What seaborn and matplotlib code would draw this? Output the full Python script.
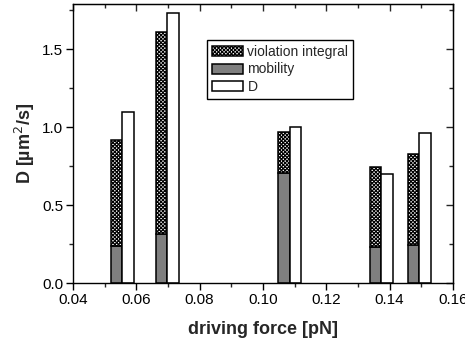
import matplotlib
matplotlib.use("Agg")
import matplotlib.pyplot as plt
import seaborn as sns
import numpy as np
from matplotlib.ticker import MultipleLocator, FormatStrFormatter

# data (force values at the shared edge of each bar pair)
force = [0.0556, 0.0698, 0.1085, 0.1374, 0.1494]
mobility = [0.235, 0.314, 0.705, 0.232, 0.243]
total_stacked = [0.919, 1.609, 0.972, 0.744, 0.831]
D = [1.10, 1.735, 1.004, 0.70, 0.962]
violation = [t - m for t, m in zip(total_stacked, mobility)]

sns.set_style("ticks")
plt.rcParams['font.family'] = ['Liberation Sans', 'DejaVu Sans']
plt.rcParams['hatch.linewidth'] = 0.85

fig = plt.figure(figsize=(4.65, 3.44), dpi=100)
ax = fig.add_axes([0.157, 0.177, 0.817, 0.811])

w = 0.0036
x = np.array(force)
ax.bar(x - w / 2, mobility, width=w, color='#7f7f7f', edgecolor='black', linewidth=1.1, label='mobility', zorder=2)
ax.bar(x - w / 2, violation, bottom=mobility, width=w, color='white', edgecolor='black',
       hatch='xxxxxxxxx', linewidth=1.1, label='violation integral', zorder=2)
ax.bar(x + w / 2, D, width=w, color='white', edgecolor='black', linewidth=1.1, label='D', zorder=2)

ax.set_xlim(0.04, 0.16)
ax.set_ylim(0, 1.79)
ax.xaxis.set_major_locator(MultipleLocator(0.02))
ax.xaxis.set_minor_locator(MultipleLocator(0.01))
ax.yaxis.set_major_locator(MultipleLocator(0.5))
ax.yaxis.set_minor_locator(MultipleLocator(0.25))
ax.xaxis.set_major_formatter(FormatStrFormatter('%.2f'))
ax.yaxis.set_major_formatter(FormatStrFormatter('%.1f'))
ax.tick_params(which='major', direction='out', length=5, width=1, labelsize=11, colors='black', pad=2)
ax.tick_params(which='minor', direction='out', length=3, width=1)
for s in ax.spines.values():
    s.set_visible(True)
    s.set_linewidth(1)
    s.set_color('black')

# top/right inward ticks
secx = ax.secondary_xaxis('top')
secx.xaxis.set_major_locator(MultipleLocator(0.02))
secx.xaxis.set_minor_locator(MultipleLocator(0.01))
secx.tick_params(which='major', direction='in', length=5, width=1, labeltop=False)
secx.tick_params(which='minor', direction='in', length=3, width=1)
secy = ax.secondary_yaxis('right')
secy.yaxis.set_major_locator(MultipleLocator(0.5))
secy.yaxis.set_minor_locator(MultipleLocator(0.25))
secy.tick_params(which='major', direction='in', length=5, width=1, labelright=False)
secy.tick_params(which='minor', direction='in', length=3, width=1)

ax.set_xlabel('driving force [pN]', fontsize=13, fontweight='bold', labelpad=10)
ax.set_ylabel('D [µm$^2$/s]', fontsize=13, fontweight='bold', labelpad=4)

handles, labels = ax.get_legend_handles_labels()
order = [1, 0, 2]
leg = ax.legend([handles[i] for i in order], [labels[i] for i in order],
                loc='upper left', bbox_to_anchor=(0.353, 0.871), fontsize=10,
                frameon=True, fancybox=False, edgecolor='black', framealpha=1,
                handlelength=2.2, handleheight=0.75, handletextpad=0.35,
                labelspacing=0.25, borderpad=0.35, borderaxespad=0)
leg.get_frame().set_linewidth(1)

fig.savefig('out.png', dpi=100)
